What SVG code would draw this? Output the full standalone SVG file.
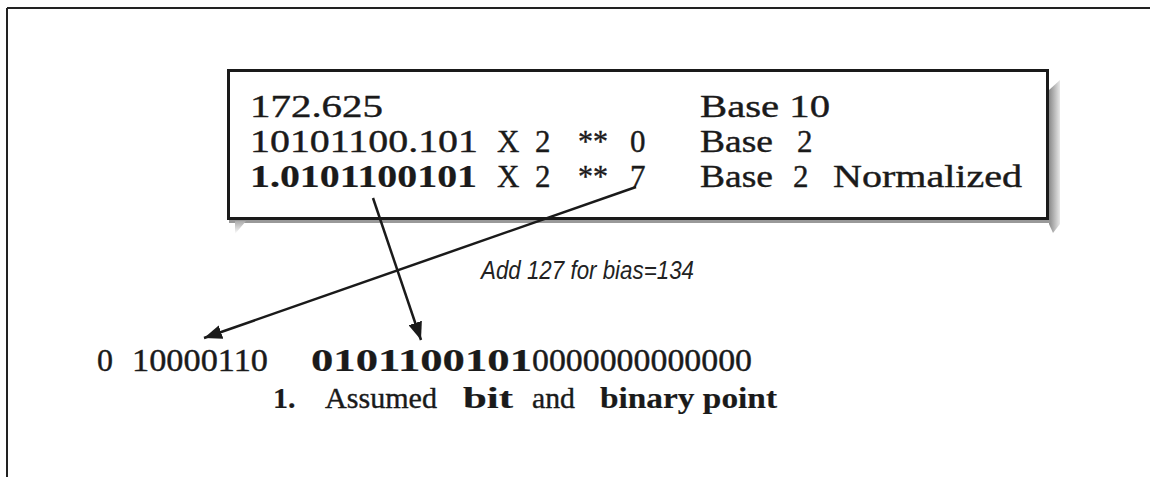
<svg xmlns="http://www.w3.org/2000/svg" width="1150" height="477" viewBox="0 0 1150 477">
<style>
.s{font-family:"Liberation Serif","DejaVu Serif",serif;fill:#1a1a1a;stroke:#1a1a1a;stroke-width:0.4}
.b{font-weight:bold;stroke-width:0.2}
.big{font-size:31px}
.mid{font-size:32px}
.cap{font-size:30px}
.lab{font-family:"Liberation Sans",Arial,sans-serif;font-style:italic;font-size:25px;fill:#222}
.conn{stroke:#1a1a1a;stroke-width:2.5;fill:none}
</style>
<defs>
<marker id="ah" markerUnits="userSpaceOnUse" markerWidth="20" markerHeight="14" refX="18" refY="7" orient="auto">
<path d="M0,0 L18,7 L0,14 z" fill="#1a1a1a"/>
</marker>
<linearGradient id="gr" x1="0" y1="0" x2="1" y2="0">
<stop offset="0" stop-color="#8a8a8a"/>
<stop offset="1" stop-color="#e8e8e8"/>
</linearGradient>
<linearGradient id="gb" x1="0" y1="0" x2="0" y2="1">
<stop offset="0" stop-color="#aaaaaa"/>
<stop offset="1" stop-color="#ffffff"/>
</linearGradient>
</defs>

<g id="frame">
<line x1="7" y1="8" x2="1150" y2="8" stroke="#222" stroke-width="2"/>
<line x1="7" y1="8" x2="7" y2="477" stroke="#222" stroke-width="2"/>
</g>

<g id="box">
<polygon points="1049,90 1060,80 1060,224 1053,233 1049,224" fill="url(#gr)"/>
<rect x="229" y="220" width="822" height="3" fill="#999"/>
<polygon points="235,221 246,221 235,234" fill="url(#gb)"/>
<rect x="228.5" y="70.5" width="819" height="148" fill="#fff" stroke="#1a1a1a" stroke-width="3"/>
<text class="s big" x="250" y="117" textLength="133" lengthAdjust="spacingAndGlyphs">172.625</text>
<text class="s big" x="700" y="117" textLength="130" lengthAdjust="spacingAndGlyphs">Base 10</text>
<text class="s big" x="250" y="152" textLength="228" lengthAdjust="spacingAndGlyphs">10101100.101</text>
<text class="s big" x="497" y="152">X</text>
<text class="s big" x="535" y="152">2</text>
<text class="s big" x="578" y="152" textLength="30" lengthAdjust="spacingAndGlyphs">**</text>
<text class="s big" x="630" y="152">0</text>
<text class="s big" x="700" y="152" textLength="73" lengthAdjust="spacingAndGlyphs">Base</text>
<text class="s big" x="797" y="152">2</text>
<text class="s big b" x="250" y="187" textLength="227" lengthAdjust="spacingAndGlyphs">1.0101100101</text>
<text class="s big" x="497" y="187">X</text>
<text class="s big" x="535" y="187">2</text>
<text class="s big" x="578" y="187" textLength="30" lengthAdjust="spacingAndGlyphs">**</text>
<text class="s big" x="630" y="187">7</text>
<text class="s big" x="700" y="187" textLength="73" lengthAdjust="spacingAndGlyphs">Base</text>
<text class="s big" x="793" y="187">2</text>
<text class="s big" x="833" y="187" textLength="189" lengthAdjust="spacingAndGlyphs">Normalized</text>
</g>

<g id="bias-label">
<text class="lab" x="481" y="279" textLength="213" lengthAdjust="spacingAndGlyphs">Add 127 for bias=134</text>
</g>

<g id="bits">
<text class="s mid" x="97" y="371">0</text>
<text class="s mid" x="132" y="371" textLength="136" lengthAdjust="spacingAndGlyphs">10000110</text>
<text class="s mid b" x="311" y="371" textLength="221" lengthAdjust="spacingAndGlyphs">0101100101</text>
<text class="s mid" x="532" y="371" textLength="220" lengthAdjust="spacingAndGlyphs">0000000000000</text>
</g>

<g id="caption">
<text class="s cap b" x="273" y="408">1.</text>
<text class="s cap" x="325" y="408" textLength="112" lengthAdjust="spacingAndGlyphs">Assumed</text>
<text class="s cap b" x="463" y="408" textLength="50" lengthAdjust="spacingAndGlyphs">bit</text>
<text class="s cap" x="532" y="408" textLength="43" lengthAdjust="spacingAndGlyphs">and</text>
<text class="s cap b" x="600" y="408" textLength="177" lengthAdjust="spacingAndGlyphs">binary point</text>
</g>

<g id="connectors">
<path class="conn" d="M373,198 L421,340" marker-end="url(#ah)"/>
<path class="conn" d="M636,187 L204,338" marker-end="url(#ah)"/>
</g>
</svg>
